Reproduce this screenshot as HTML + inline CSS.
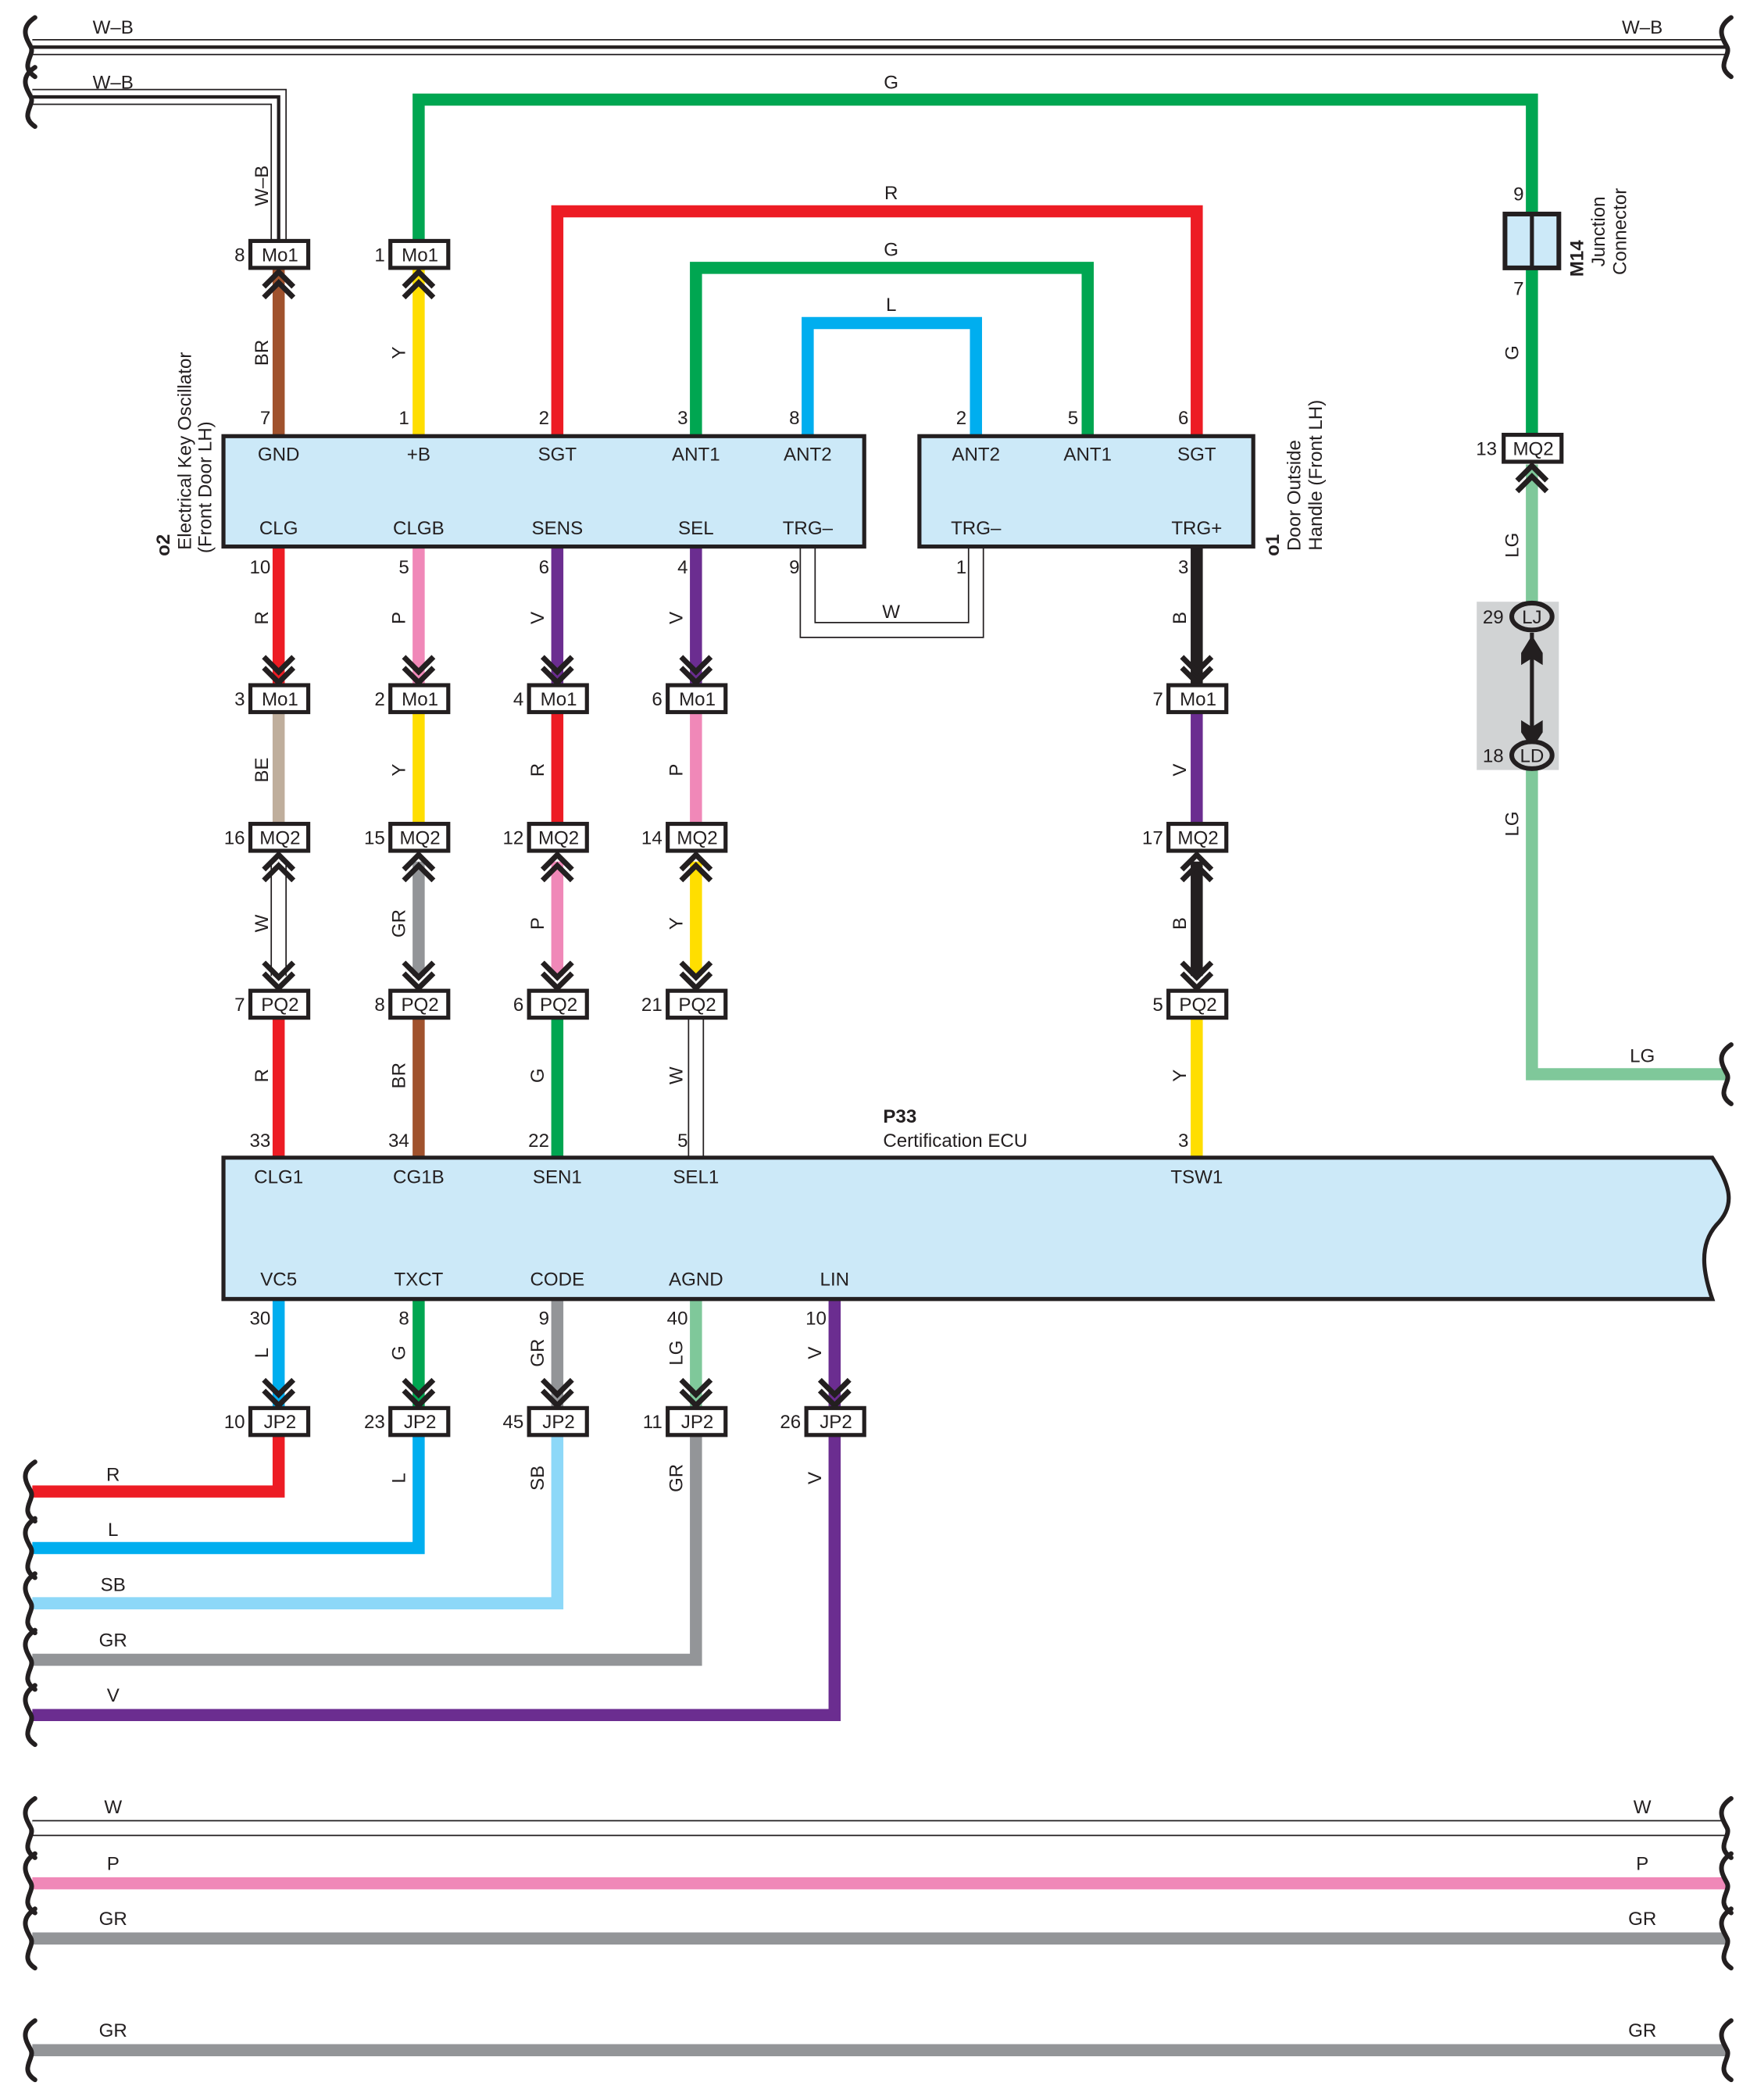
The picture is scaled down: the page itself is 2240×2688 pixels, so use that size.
<!DOCTYPE html>
<html><head><meta charset="utf-8"><style>
html,body{margin:0;padding:0;background:#fff}
svg{display:block}
text{font-family:"Liberation Sans",Arial,sans-serif;font-size:14px;fill:#231f20}
.c{text-anchor:middle}
.e{text-anchor:end}
.b{font-weight:bold}
</style></head><body>
<svg width="2240" height="2688" viewBox="0 0 1300 1560" xmlns="http://www.w3.org/2000/svg">
<defs>
<path id="br" d="M26,-22 C14,-14 20,-6 23,0 C26,6 14,14 26,22" fill="none" stroke="#231f20" stroke-width="3.5" stroke-linecap="round"/>
<g id="chu"><polyline points="-11,11 0,0 11,11" fill="none" stroke="#231f20" stroke-width="4"/><polyline points="-11,19 0,8 11,19" fill="none" stroke="#231f20" stroke-width="4"/></g>
<g id="chd"><polyline points="-11,-11 0,0 11,-11" fill="none" stroke="#231f20" stroke-width="4"/><polyline points="-11,-19 0,-8 11,-19" fill="none" stroke="#231f20" stroke-width="4"/></g>
</defs>

<!-- top W-B lines -->
<g>
<line x1="24" y1="35" x2="1282" y2="35" stroke="#231f20" stroke-width="12"/>
<line x1="24" y1="35" x2="1282" y2="35" stroke="#fff" stroke-width="10"/>
<line x1="24" y1="35" x2="1282" y2="35" stroke="#231f20" stroke-width="2.5"/>
<path d="M24,72 H207 V180" fill="none" stroke="#231f20" stroke-width="12"/>
<path d="M24,72 H207 V180" fill="none" stroke="#fff" stroke-width="10"/>
<path d="M24,72 H207 V180" fill="none" stroke="#231f20" stroke-width="2.5"/>
</g>
<use href="#br" x="0" y="35"/><use href="#br" x="0" y="72"/>
<use href="#br" x="1260" y="35"/>
<text class="c" x="84" y="25">W–B</text><text class="c" x="1220" y="25">W–B</text>
<text class="c" x="84" y="66">W–B</text>
<text class="c" transform="translate(199,138) rotate(-90)">W–B</text>

<!-- big loops -->
<path d="M311,180 V74 H1138 V160" fill="none" stroke="#00a651" stroke-width="9"/>
<text class="c" x="662" y="66">G</text>
<path d="M414,323 V157 H889 V323" fill="none" stroke="#ed1c24" stroke-width="9"/>
<text class="c" x="662" y="148">R</text>
<path d="M517,323 V199 H808 V323" fill="none" stroke="#00a651" stroke-width="9"/>
<text class="c" x="662" y="190">G</text>
<path d="M600,323 V240 H725 V323" fill="none" stroke="#00aeef" stroke-width="9"/>
<text class="c" x="662" y="231">L</text>

<!-- above left box -->
<line x1="207" y1="200" x2="207" y2="323" stroke="#a0522d" stroke-width="9"/>
<line x1="311" y1="200" x2="311" y2="323" stroke="#ffde00" stroke-width="9"/>
<text class="c" transform="translate(199,262) rotate(-90)">BR</text>
<text class="c" transform="translate(301,262) rotate(-90)">Y</text>

<!-- M14 / right G / LG -->
<line x1="1138" y1="160" x2="1138" y2="323" stroke="#00a651" stroke-width="9"/>
<rect x="1118" y="159" width="40" height="40" fill="#cce9f8" stroke="#231f20" stroke-width="3.5"/>
<line x1="1138" y1="159" x2="1138" y2="199" stroke="#231f20" stroke-width="3"/>
<text class="e" x="1132" y="149">9</text><text class="e" x="1132" y="219">7</text>
<text class="c b" transform="translate(1176,192) rotate(-90)">M14</text>
<text class="c" transform="translate(1192,172) rotate(-90)">Junction</text>
<text class="c" transform="translate(1208,172) rotate(-90)">Connector</text>
<text class="c" transform="translate(1128,262) rotate(-90)">G</text>
<path d="M1138,345 V798 H1282" fill="none" stroke="#7fc89a" stroke-width="9"/>
<rect x="1097" y="447" width="61" height="125" fill="#d1d3d4"/>
<line x1="1138" y1="470" x2="1138" y2="550" stroke="#231f20" stroke-width="3"/>
<polygon points="1130,485 1138,472 1146,485 1146,494 1138,489 1130,494" fill="#231f20"/>
<polygon points="1130,535 1138,540 1146,535 1146,544 1138,556 1130,544" fill="#231f20"/>
<ellipse cx="1138" cy="458" rx="15" ry="10" fill="#d1d3d4" stroke="#231f20" stroke-width="3.5"/>
<text class="c" x="1138" y="463">LJ</text>
<ellipse cx="1138" cy="561" rx="15" ry="10" fill="#d1d3d4" stroke="#231f20" stroke-width="3.5"/>
<text class="c" x="1138" y="566">LD</text>
<text class="e" x="1117" y="463">29</text><text class="e" x="1117" y="566">18</text>
<text class="c" transform="translate(1128,405) rotate(-90)">LG</text>
<text class="c" transform="translate(1128,612) rotate(-90)">LG</text>
<text class="c" x="1220" y="789">LG</text>
<use href="#br" x="1260" y="798"/>

<!-- W loop between boxes -->
<path d="M600,405 V468 H725 V405" fill="none" stroke="#231f20" stroke-width="12"/>
<path d="M600,405 V468 H725 V405" fill="none" stroke="#fff" stroke-width="10"/>
<text class="c" x="662" y="459">W</text>

<!-- column wires -->
<g stroke-width="9">
<line x1="207" y1="406" x2="207" y2="508" stroke="#ed1c24"/>
<line x1="311" y1="406" x2="311" y2="508" stroke="#f088b8"/>
<line x1="414" y1="406" x2="414" y2="508" stroke="#6b2d90"/>
<line x1="517" y1="406" x2="517" y2="508" stroke="#6b2d90"/>
<line x1="889" y1="406" x2="889" y2="508" stroke="#231f20"/>
<line x1="207" y1="530" x2="207" y2="612" stroke="#bfae9c"/>
<line x1="311" y1="530" x2="311" y2="612" stroke="#ffde00"/>
<line x1="414" y1="530" x2="414" y2="612" stroke="#ed1c24"/>
<line x1="517" y1="530" x2="517" y2="612" stroke="#f088b8"/>
<line x1="889" y1="530" x2="889" y2="612" stroke="#6b2d90"/>
<line x1="311" y1="640" x2="311" y2="725" stroke="#939598"/>
<line x1="414" y1="640" x2="414" y2="725" stroke="#f088b8"/>
<line x1="517" y1="640" x2="517" y2="725" stroke="#ffde00"/>
<line x1="889" y1="640" x2="889" y2="725" stroke="#231f20"/>
<line x1="207" y1="757" x2="207" y2="860" stroke="#ed1c24"/>
<line x1="311" y1="757" x2="311" y2="860" stroke="#a0522d"/>
<line x1="414" y1="757" x2="414" y2="860" stroke="#00a651"/>
<line x1="889" y1="757" x2="889" y2="860" stroke="#ffde00"/>
</g>
<g fill="none">
<line x1="207" y1="640" x2="207" y2="725" stroke="#231f20" stroke-width="12"/>
<line x1="207" y1="640" x2="207" y2="725" stroke="#fff" stroke-width="10"/>
<line x1="517" y1="757" x2="517" y2="860" stroke="#231f20" stroke-width="12"/>
<line x1="517" y1="757" x2="517" y2="860" stroke="#fff" stroke-width="10"/>
</g>

<!-- bottom wires -->
<g fill="none" stroke-width="9">
<line x1="207" y1="965" x2="207" y2="1045" stroke="#00aeef"/>
<line x1="311" y1="965" x2="311" y2="1045" stroke="#00a651"/>
<line x1="414" y1="965" x2="414" y2="1045" stroke="#939598"/>
<line x1="517" y1="965" x2="517" y2="1045" stroke="#7fc89a"/>
<line x1="620" y1="965" x2="620" y2="1045" stroke="#6b2d90"/>
<path d="M207,1067 V1108 H24" stroke="#ed1c24"/>
<path d="M311,1067 V1150 H24" stroke="#00aeef"/>
<path d="M414,1067 V1191 H24" stroke="#8dd8f8"/>
<path d="M517,1067 V1233 H24" stroke="#939598"/>
<path d="M620,1067 V1274 H24" stroke="#6b2d90"/>
</g>
<use href="#br" x="0" y="1108"/><use href="#br" x="0" y="1150"/><use href="#br" x="0" y="1191"/><use href="#br" x="0" y="1233"/><use href="#br" x="0" y="1274"/>
<text class="c" x="84" y="1100">R</text><text class="c" x="84" y="1141">L</text><text class="c" x="84" y="1182">SB</text><text class="c" x="84" y="1223">GR</text><text class="c" x="84" y="1264">V</text>

<!-- vertical wire labels -->
<g>
<text class="c" transform="translate(199,459) rotate(-90)">R</text>
<text class="c" transform="translate(301,459) rotate(-90)">P</text>
<text class="c" transform="translate(404,459) rotate(-90)">V</text>
<text class="c" transform="translate(507,459) rotate(-90)">V</text>
<text class="c" transform="translate(881,459) rotate(-90)">B</text>
<text class="c" transform="translate(199,572) rotate(-90)">BE</text>
<text class="c" transform="translate(301,572) rotate(-90)">Y</text>
<text class="c" transform="translate(404,572) rotate(-90)">R</text>
<text class="c" transform="translate(507,572) rotate(-90)">P</text>
<text class="c" transform="translate(881,572) rotate(-90)">V</text>
<text class="c" transform="translate(199,686) rotate(-90)">W</text>
<text class="c" transform="translate(301,686) rotate(-90)">GR</text>
<text class="c" transform="translate(404,686) rotate(-90)">P</text>
<text class="c" transform="translate(507,686) rotate(-90)">Y</text>
<text class="c" transform="translate(881,686) rotate(-90)">B</text>
<text class="c" transform="translate(199,799) rotate(-90)">R</text>
<text class="c" transform="translate(301,799) rotate(-90)">BR</text>
<text class="c" transform="translate(404,799) rotate(-90)">G</text>
<text class="c" transform="translate(507,799) rotate(-90)">W</text>
<text class="c" transform="translate(881,799) rotate(-90)">Y</text>
<text class="c" transform="translate(199,1005) rotate(-90)">L</text>
<text class="c" transform="translate(301,1005) rotate(-90)">G</text>
<text class="c" transform="translate(404,1005) rotate(-90)">GR</text>
<text class="c" transform="translate(507,1005) rotate(-90)">LG</text>
<text class="c" transform="translate(610,1005) rotate(-90)">V</text>
<text class="c" transform="translate(301,1098) rotate(-90)">L</text>
<text class="c" transform="translate(404,1098) rotate(-90)">SB</text>
<text class="c" transform="translate(507,1098) rotate(-90)">GR</text>
<text class="c" transform="translate(610,1098) rotate(-90)">V</text>
</g>

<!-- boxes -->
<rect x="166" y="324" width="476" height="82" fill="#cce9f8" stroke="#231f20" stroke-width="3"/>
<rect x="683" y="324" width="248" height="82" fill="#cce9f8" stroke="#231f20" stroke-width="3"/>
<g>
<text class="c" x="207" y="342">GND</text><text class="c" x="311" y="342">+B</text><text class="c" x="414" y="342">SGT</text><text class="c" x="517" y="342">ANT1</text><text class="c" x="600" y="342">ANT2</text>
<text class="c" x="725" y="342">ANT2</text><text class="c" x="808" y="342">ANT1</text><text class="c" x="889" y="342">SGT</text>
<text class="c" x="207" y="397">CLG</text><text class="c" x="311" y="397">CLGB</text><text class="c" x="414" y="397">SENS</text><text class="c" x="517" y="397">SEL</text><text class="c" x="600" y="397">TRG–</text>
<text class="c" x="725" y="397">TRG–</text><text class="c" x="889" y="397">TRG+</text>
</g>
<g>
<text class="e" x="201" y="315">7</text><text class="e" x="304" y="315">1</text><text class="e" x="408" y="315">2</text><text class="e" x="511" y="315">3</text><text class="e" x="594" y="315">8</text>
<text class="e" x="718" y="315">2</text><text class="e" x="801" y="315">5</text><text class="e" x="883" y="315">6</text>
<text class="e" x="201" y="426">10</text><text class="e" x="304" y="426">5</text><text class="e" x="408" y="426">6</text><text class="e" x="511" y="426">4</text><text class="e" x="594" y="426">9</text>
<text class="e" x="718" y="426">1</text><text class="e" x="883" y="426">3</text>
</g>
<text class="c b" transform="translate(126,405) rotate(-90)">o2</text>
<text class="c" transform="translate(142,335) rotate(-90)">Electrical Key Oscillator</text>
<text class="c" transform="translate(157,362) rotate(-90)">(Front Door LH)</text>
<text class="c b" transform="translate(950,405) rotate(-90)">o1</text>
<text class="c" transform="translate(966,368) rotate(-90)">Door Outside</text>
<text class="c" transform="translate(982,353) rotate(-90)">Handle (Front LH)</text>

<!-- ECU -->
<path d="M166,860 H1272 C1285,880 1290,895 1275,910 C1262,925 1265,945 1272,965 H166 Z" fill="#cce9f8" stroke="#231f20" stroke-width="3"/>
<text class="b" x="656" y="834">P33</text>
<text x="656" y="852">Certification ECU</text>
<g>
<text class="e" x="201" y="852">33</text><text class="e" x="304" y="852">34</text><text class="e" x="408" y="852">22</text><text class="e" x="511" y="852">5</text><text class="e" x="883" y="852">3</text>
<text class="c" x="207" y="879">CLG1</text><text class="c" x="311" y="879">CG1B</text><text class="c" x="414" y="879">SEN1</text><text class="c" x="517" y="879">SEL1</text><text class="c" x="889" y="879">TSW1</text>
<text class="c" x="207" y="955">VC5</text><text class="c" x="311" y="955">TXCT</text><text class="c" x="414" y="955">CODE</text><text class="c" x="517" y="955">AGND</text><text class="c" x="620" y="955">LIN</text>
<text class="e" x="201" y="984">30</text><text class="e" x="304" y="984">8</text><text class="e" x="408" y="984">9</text><text class="e" x="511" y="984">40</text><text class="e" x="614" y="984">10</text>
</g>

<!-- chevrons -->
<use href="#chu" x="207" y="202"/><use href="#chu" x="311" y="202"/><use href="#chu" x="1138" y="346"/>
<use href="#chd" x="207" y="507"/><use href="#chd" x="311" y="507"/><use href="#chd" x="414" y="507"/><use href="#chd" x="517" y="507"/><use href="#chd" x="889" y="507"/>
<use href="#chu" x="207" y="635"/><use href="#chu" x="311" y="635"/><use href="#chu" x="414" y="635"/><use href="#chu" x="517" y="635"/><use href="#chu" x="889" y="635"/>
<use href="#chd" x="207" y="734"/><use href="#chd" x="311" y="734"/><use href="#chd" x="414" y="734"/><use href="#chd" x="517" y="734"/><use href="#chd" x="889" y="734"/>
<use href="#chd" x="207" y="1044"/><use href="#chd" x="311" y="1044"/><use href="#chd" x="414" y="1044"/><use href="#chd" x="517" y="1044"/><use href="#chd" x="620" y="1044"/>

<!-- connectors -->
<g fill="#fff" stroke="#231f20" stroke-width="3">
<rect x="186" y="179" width="43" height="20"/><rect x="290" y="179" width="43" height="20"/>
<rect x="1117" y="323" width="43" height="20"/>
<rect x="186" y="509" width="43" height="20"/><rect x="290" y="509" width="43" height="20"/><rect x="393" y="509" width="43" height="20"/><rect x="496" y="509" width="43" height="20"/><rect x="868" y="509" width="43" height="20"/>
<rect x="186" y="612" width="43" height="20"/><rect x="290" y="612" width="43" height="20"/><rect x="393" y="612" width="43" height="20"/><rect x="496" y="612" width="43" height="20"/><rect x="868" y="612" width="43" height="20"/>
<rect x="186" y="736" width="43" height="20"/><rect x="290" y="736" width="43" height="20"/><rect x="393" y="736" width="43" height="20"/><rect x="496" y="736" width="43" height="20"/><rect x="868" y="736" width="43" height="20"/>
<rect x="186" y="1046" width="43" height="20"/><rect x="290" y="1046" width="43" height="20"/><rect x="393" y="1046" width="43" height="20"/><rect x="496" y="1046" width="43" height="20"/><rect x="599" y="1046" width="43" height="20"/>
</g>
<g>
<text class="c" x="208" y="194">Mo1</text><text class="c" x="312" y="194">Mo1</text><text class="e" x="182" y="194">8</text><text class="e" x="286" y="194">1</text>
<text class="c" x="1139" y="338">MQ2</text><text class="e" x="1112" y="338">13</text>
<text class="c" x="208" y="524">Mo1</text><text class="c" x="312" y="524">Mo1</text><text class="c" x="415" y="524">Mo1</text><text class="c" x="518" y="524">Mo1</text><text class="c" x="890" y="524">Mo1</text>
<text class="e" x="182" y="524">3</text><text class="e" x="286" y="524">2</text><text class="e" x="389" y="524">4</text><text class="e" x="492" y="524">6</text><text class="e" x="864" y="524">7</text>
<text class="c" x="208" y="627">MQ2</text><text class="c" x="312" y="627">MQ2</text><text class="c" x="415" y="627">MQ2</text><text class="c" x="518" y="627">MQ2</text><text class="c" x="890" y="627">MQ2</text>
<text class="e" x="182" y="627">16</text><text class="e" x="286" y="627">15</text><text class="e" x="389" y="627">12</text><text class="e" x="492" y="627">14</text><text class="e" x="864" y="627">17</text>
<text class="c" x="208" y="751">PQ2</text><text class="c" x="312" y="751">PQ2</text><text class="c" x="415" y="751">PQ2</text><text class="c" x="518" y="751">PQ2</text><text class="c" x="890" y="751">PQ2</text>
<text class="e" x="182" y="751">7</text><text class="e" x="286" y="751">8</text><text class="e" x="389" y="751">6</text><text class="e" x="492" y="751">21</text><text class="e" x="864" y="751">5</text>
<text class="c" x="208" y="1061">JP2</text><text class="c" x="312" y="1061">JP2</text><text class="c" x="415" y="1061">JP2</text><text class="c" x="518" y="1061">JP2</text><text class="c" x="621" y="1061">JP2</text>
<text class="e" x="182" y="1061">10</text><text class="e" x="286" y="1061">23</text><text class="e" x="389" y="1061">45</text><text class="e" x="492" y="1061">11</text><text class="e" x="595" y="1061">26</text>
</g>

<!-- bottom bus lines -->
<line x1="24" y1="1358" x2="1282" y2="1358" stroke="#231f20" stroke-width="12"/>
<line x1="24" y1="1358" x2="1282" y2="1358" stroke="#fff" stroke-width="10"/>
<line x1="24" y1="1399" x2="1282" y2="1399" stroke="#f088b8" stroke-width="9"/>
<line x1="24" y1="1440" x2="1282" y2="1440" stroke="#939598" stroke-width="9"/>
<line x1="24" y1="1523" x2="1282" y2="1523" stroke="#939598" stroke-width="9"/>
<use href="#br" x="0" y="1358"/><use href="#br" x="0" y="1399"/><use href="#br" x="0" y="1440"/><use href="#br" x="0" y="1523"/>
<use href="#br" x="1260" y="1358"/><use href="#br" x="1260" y="1399"/><use href="#br" x="1260" y="1440"/><use href="#br" x="1260" y="1523"/>
<text class="c" x="84" y="1347">W</text><text class="c" x="1220" y="1347">W</text>
<text class="c" x="84" y="1389">P</text><text class="c" x="1220" y="1389">P</text>
<text class="c" x="84" y="1430">GR</text><text class="c" x="1220" y="1430">GR</text>
<text class="c" x="84" y="1513">GR</text><text class="c" x="1220" y="1513">GR</text>
</svg>
</body></html>
